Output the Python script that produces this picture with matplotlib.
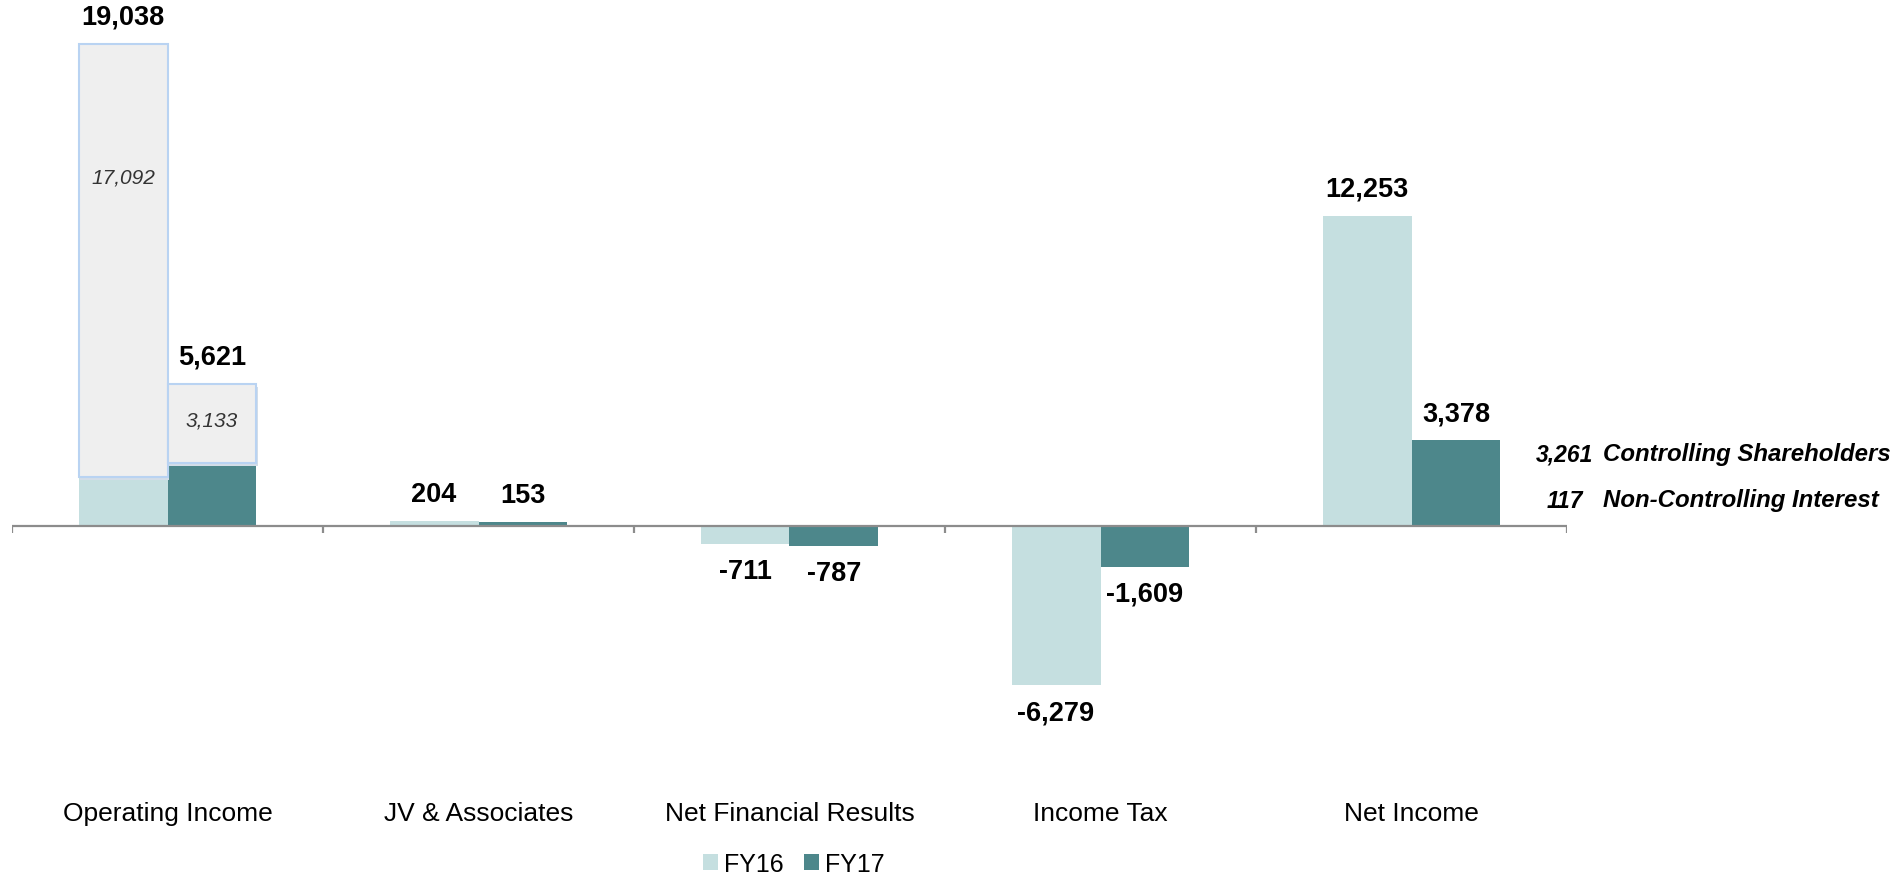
import matplotlib

matplotlib.use("Agg")
import matplotlib.pyplot as plt
from matplotlib.patches import Patch

# values
categories = ["Operating Income", "JV & Associates", "Net Financial Results", "Income Tax", "Net Income"]
fy16 = [19038, 204, -711, -6279, 12253]
fy17 = [5621, 153, -787, -1609, 3378]
series_names = ["FY16", "FY17"]

# overlay boxes on the Operating Income bars
overlay_values = [17092, 3133]
overlay_drop_pt = [96, 26]  # label position below box top

# net income split shown at the right
split_values = ["3,261", "117"]
split_labels = ["Controlling Shareholders", "Non-Controlling Interest"]

c16, c17 = "#c5dfe0", "#4d878b"
axis_c = "#8c8c8c"
W, H = 1897, 879

plt.rcParams["font.family"] = ["Liberation Sans", "DejaVu Sans"]

fig = plt.figure(figsize=(W / 100, H / 100), dpi=100)
ax = fig.add_axes([12 / W, 89 / H, 1555 / W, 790 / H])

units_per_px = 39.5
ax.set_xlim(-0.5, 4.5)
ax.set_ylim(-(790 - 527) * units_per_px, 527 * units_per_px)

x = list(range(len(categories)))
bw, off = 0.286, 0.143
b16 = ax.bar([i - off for i in x], fy16, width=bw, color=c16, zorder=2)
b17 = ax.bar([i + off for i in x], fy17, width=bw, color=c17, zorder=2)

# light grey boxes with the italic sub-values
for bar, ov, drop in zip([b16[0], b17[0]], overlay_values, overlay_drop_pt):
    top = bar.get_height()
    cx = bar.get_x() + bar.get_width() / 2
    # faint shadow on the right edge
    ax.bar(cx + 0.006, ov, bottom=top - ov - 120, width=bw, color="#d3dde8", zorder=2.5)
    ax.bar(cx, ov, bottom=top - ov, width=bw,
           color="#efefef", edgecolor="#b9d3f2", linewidth=1.5, zorder=3)
    ax.annotate(f"{ov:,}", (cx, top),
                xytext=(0, -drop), textcoords="offset points", ha="center", va="center",
                fontsize=15, style="italic", color="#333333", zorder=4)

# bold value labels
for bars in (b16, b17):
    for b in bars:
        v = b.get_height()
        dy = 19.5 if v >= 0 else -19.5
        ax.annotate(f"{v:,.0f}", (b.get_x() + b.get_width() / 2, v),
                    xytext=(0, dy), textcoords="offset points", ha="center", va="center",
                    fontsize=19.5, fontweight="bold", color="black")

# zero line with separator ticks between categories
ax.axhline(0, color=axis_c, lw=1.6, zorder=4)
ax.vlines([i - 0.5 for i in range(len(categories) + 1)], -7 * units_per_px, 0,
          color=axis_c, lw=1.6, zorder=4)

for s in ax.spines.values():
    s.set_visible(False)
ax.set_yticks([])
ax.set_xticks(x, categories, fontsize=19)
ax.tick_params(axis="x", length=0, pad=9)

# split of Net Income on the right
for k, (val, lab) in enumerate(zip(split_values, split_labels)):
    yy = 1 - (455 + 46 * k) / H
    fig.text(1565 / W, yy, val, ha="center", va="center", fontsize=16.5,
             style="italic", fontweight="bold", color="black")
    fig.text(1603 / W, yy, lab, ha="left", va="center", fontsize=17.3,
             style="italic", fontweight="bold", color="black")

handles = [Patch(facecolor=c16), Patch(facecolor=c17)]
fig.legend(handles, series_names, loc="center", bbox_to_anchor=(794 / W, 1 - 865 / H),
           ncol=2, frameon=False, fontsize=18, handlelength=0.6, handleheight=0.6,
           handletextpad=0.25, columnspacing=0.8)

fig.savefig("out.png", dpi=100)
